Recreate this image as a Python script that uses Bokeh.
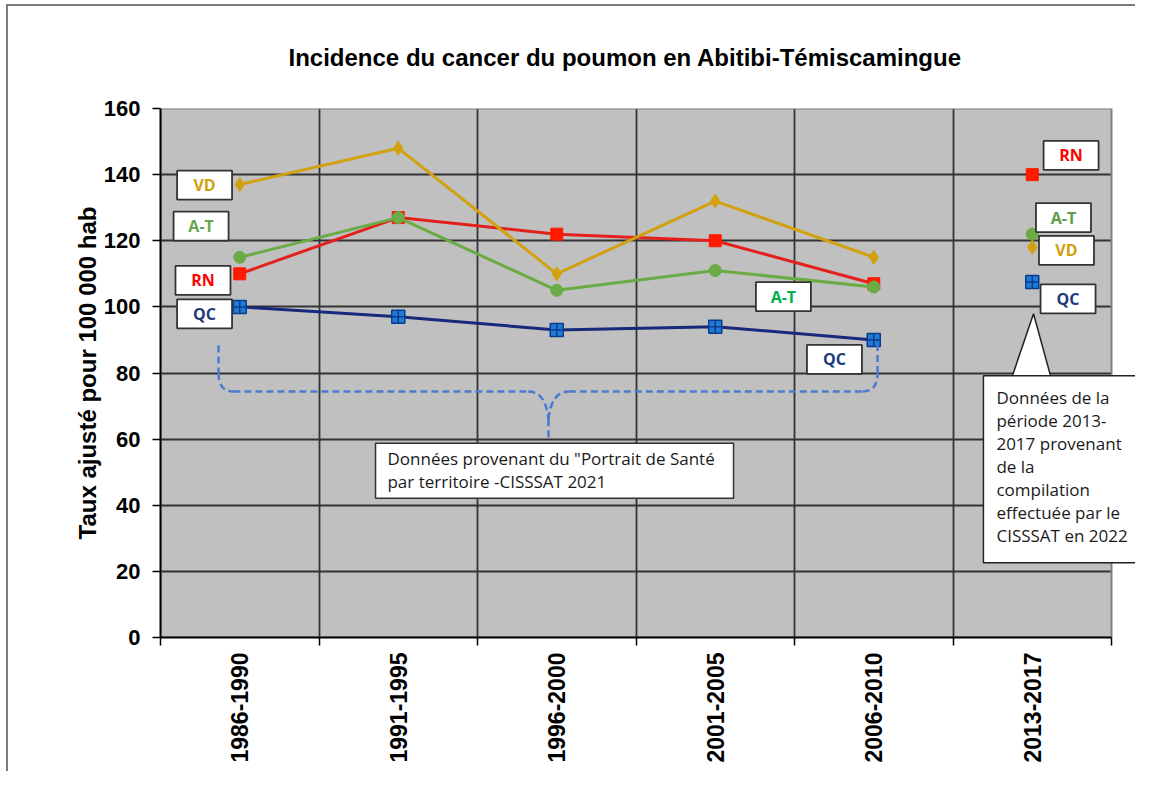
from bokeh.plotting import figure
from bokeh.models import Range1d, FixedTicker, Label, ColumnDataSource
from bokeh.core.properties import value
from bokeh.embed import file_html
from bokeh.resources import INLINE
import math

# ---------------- data ----------------
categories = ["1986-1990", "1991-1995", "1996-2000", "2001-2005", "2006-2010", "2013-2017"]
qc = [100, 97, 93, 94, 90, 107.5]
rn = [110, 127, 122, 120, 107, 140]
at = [115, 127, 105, 111, 106, 122]
vd = [137, 148, 110, 132, 115, 118]
y_ticks = [0, 20, 40, 60, 80, 100, 120, 140, 160]

title_text = "Incidence du cancer du poumon en Abitibi-Témiscamingue"
y_label = "Taux ajusté pour 100 000 hab"
note_left = ['Données provenant du "Portrait de Santé', "par territoire -CISSSAT 2021"]
note_right = "Données de la\npériode 2013-\n2017 provenant\nde la\ncompilation\neffectuée par le\nCISSSAT en 2022"

# ---------------- figure ----------------
n = len(categories)
centers = [i + 0.5 for i in range(n)]
xs_line = centers[:5]
YMAX = 160
X_END = n * 975 / 951.0   # extra room right of the plot area for the callout

p = figure(width=1135, height=771, output_backend="svg", toolbar_location=None,
           x_range=Range1d(0, X_END), y_range=Range1d(0, YMAX),
           min_border_left=160, min_border_top=108, min_border_right=0, min_border_bottom=134)
p.border_fill_color = None
p.styles = {"background": "linear-gradient(#7a7a7a,#7a7a7a) 6px 4px / 2px 100% no-repeat, "
                          "linear-gradient(#7a7a7a,#7a7a7a) 6px 4px / 100% 2px no-repeat, white"}
p.background_fill_color = "white"
p.outline_line_color = None

# title
p.title.text = title_text
p.title.align = "left"
p.title.offset = 128
p.title.standoff = 75
p.title.text_font = "Liberation Sans"
p.title.text_font_style = "bold"
p.title.text_font_size = "24px"
p.title.text_color = "black"

# plot-area background
p.quad(left=[0], right=[n], bottom=[0], top=[YMAX], fill_color="#C0C0C0",
       line_color=None, level="image")

# x axis
xax = p.xaxis[0]
xax.bounds = (0, n)
xax.ticker = FixedTicker(ticks=centers, minor_ticks=list(range(n + 1)))
xax.major_label_overrides = {c: lab for c, lab in zip(centers, categories)}
xax.major_label_orientation = math.pi / 2
xax.major_tick_out = 0
xax.major_tick_in = 0
xax.minor_tick_out = 8
xax.minor_tick_in = 0
xax.minor_tick_line_color = "black"
xax.minor_tick_line_width = 1.5
xax.axis_line_color = "black"
xax.axis_line_width = 2
xax.major_label_text_font = "Liberation Sans"
xax.major_label_text_font_style = "bold"
xax.major_label_text_font_size = "23px"
xax.major_label_text_color = "black"
xax.major_label_standoff = 7

# y axis
yax = p.yaxis[0]
yax.bounds = (0, YMAX)
yax.ticker = FixedTicker(ticks=y_ticks)
yax.major_tick_out = 8
yax.major_tick_in = 0
yax.minor_tick_out = 0
yax.major_tick_line_width = 1.5
yax.axis_line_color = "black"
yax.axis_line_width = 2
yax.major_label_text_font = "Liberation Sans"
yax.major_label_text_font_style = "bold"
yax.major_label_text_font_size = "22px"
yax.major_label_text_color = "black"
yax.major_label_standoff = 12
yax.axis_label = y_label
yax.axis_label_text_font = "Liberation Sans"
yax.axis_label_text_font_style = "bold"
yax.axis_label_text_font_size = "24px"
yax.axis_label_text_color = "black"
yax.axis_label_standoff = 0

# grids
p.xgrid.ticker = FixedTicker(ticks=list(range(1, n)))
p.ygrid.ticker = FixedTicker(ticks=y_ticks)
for g in (p.xgrid, p.ygrid):
    g.grid_line_color = "#333333"
    g.grid_line_width = 1.8
    g.grid_line_alpha = 1

# hide grid outside the plot area, then outline the plot area
p.quad(left=[n], right=[X_END], bottom=[0], top=[YMAX], fill_color="white", line_color=None)
p.quad(left=[0], right=[n], bottom=[0], top=[YMAX], fill_color=None,
       line_color="#808080", line_width=2)

# ---------------- series ----------------
C_QC_LINE, C_QC_MK = "#16297A", "#1F7BD6"
C_RN = "#E3201C"
C_AT = "#6AAB45"
C_VD = "#D1A10F"

p.line(xs_line, qc[:5], line_color=C_QC_LINE, line_width=3)
p.scatter(centers, qc, marker="square_cross", size=13, fill_color=C_QC_MK,
          line_color="#0A3C8C", line_width=1.5)

p.line(xs_line, rn[:5], line_color=C_RN, line_width=3)
p.scatter(centers, rn, marker="square", size=12, fill_color="#FF1A00", line_color="#FF1A00")

p.line(xs_line, at[:5], line_color=C_AT, line_width=3)
p.scatter(centers, at, marker="circle", size=12, fill_color=C_AT, line_color=C_AT)

p.line(xs_line, vd[:5], line_color=C_VD, line_width=3)
p.scatter(centers, vd, marker="diamond", size=14, fill_color=C_VD, line_color=C_VD)

# ---------------- dashed brace ----------------
BR = dict(line_color="#4A7BD0", line_width=2.5, line_dash="7 4")
p.segment(x0=[0.366, 0.46, 2.448, 2.576, 4.524], y0=[88.3, 74.4, 66, 74.4, 80],
          x1=[0.366, 2.32, 2.448, 4.43, 4.524], y1=[80, 74.4, 59.5, 74.4, 88.3], **BR)
p.quadratic(x0=[0.366, 2.32, 2.448, 4.43], y0=[80, 74.4, 66, 74.4],
            x1=[0.46, 2.448, 2.576, 4.524], y1=[74.4, 66, 74.4, 80],
            cx=[0.366, 2.43, 2.466, 4.524], cy=[74.4, 74.4, 74.4, 74.4], **BR)

# ---------------- series tag boxes ----------------
tags = ["VD", "A-T", "RN", "QC", "A-T", "QC", "RN", "A-T", "VD", "QC"]
tag_x = [0.278, 0.256, 0.268, 0.278, 3.930, 4.252, 5.745, 5.697, 5.716, 5.726]
tag_y = [136.8, 124.4, 108.0, 97.9, 103.1, 84.1, 145.8, 127.0, 117.1, 102.4]
tag_c = [C_VD, "#6AA84F", "#FF0000", "#1F3A7A", "#00B050", "#1F3A7A", "#FF0000",
         "#5E9E4A", C_VD, "#1F3A7A"]
tsrc = ColumnDataSource(dict(x=tag_x, y=tag_y, t=tags, c=tag_c))
p.rect("x", "y", width=55, height=29, width_units="screen", height_units="screen",
       fill_color="white", line_color="#333333", line_width=1.8, source=tsrc)
p.text("x", "y", text="t", text_color="c", text_align="center", text_baseline="middle",
       text_font=value("Open Sans"), text_font_style="bold", text_font_size="16px",
       source=tsrc)

# ---------------- note box (left) ----------------
p.rect([2.486], [50.4], width=358, height=55, width_units="screen", height_units="screen",
       fill_color="white", line_color="#333333", line_width=1.5)
for i, line in enumerate(note_left):
    p.add_layout(Label(x=1.432, y=54.1 - i * 6.9, text=line, text_align="left",
                       text_baseline="middle", text_font="Open Sans",
                       text_font_size="17px", text_color="#1a1a1a"))

# ---------------- callout (right) ----------------
p.patch([5.375, 5.508, 5.615], [79.2, 97.9, 79.2], fill_color="white",
        line_color="#222222", line_width=1.5)
p.add_layout(Label(x=5.192, y=79.2, text=note_right, text_align="left", text_baseline="top",
                   text_font="Open Sans", text_font_size="17px", text_color="#1a1a1a",
                   text_line_height=1.0,
                   background_fill_color="white", border_line_color="#222222",
                   border_line_width=1.5,
                   padding=dict(left=13, right=18, top=10, bottom=16)))

open("out.html", "w").write(file_html(p, INLINE))
